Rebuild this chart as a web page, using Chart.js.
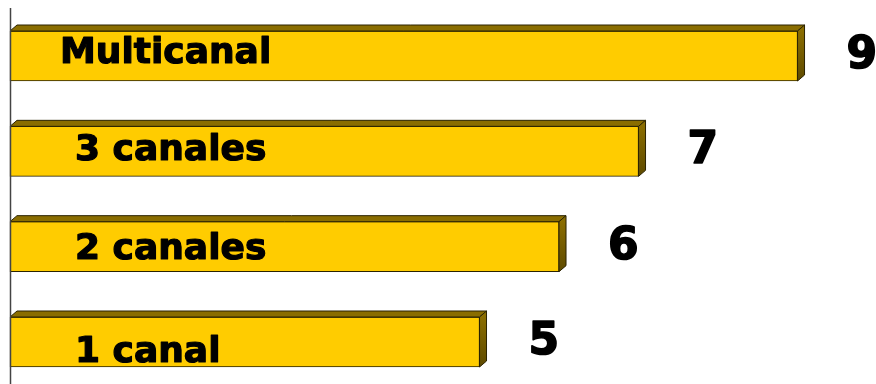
<!DOCTYPE html>
<html>
<head>
<meta charset="utf-8">
<script src="https://cdn.jsdelivr.net/npm/chart.js@4"></script>
<style>
  html, body { margin: 0; padding: 0; background: #fff; }
  #wrap { width: 876px; height: 384px; }
</style>
</head>
<body>
<div id="wrap"><canvas id="myChart" width="876" height="384"></canvas></div>
<script>
const categories = ["Multicanal", "3 canales", "2 canales", "1 canal"];
const values = [9, 7, 6, 5];

// label placement inside the bars (x start, baseline shift from bar centre)
const nameX = [60, 75, 75, 75];
const nameDy = [7, 9, 12, 20];

const xMin = -0.906;
const xMax = 9.987;

// heavy text: fill plus a thin stroke in the same colour
function boldText(c, text, x, y, weight) {
  c.lineWidth = weight;
  c.strokeStyle = "#000";
  c.lineJoin = "round";
  c.strokeText(text, x, y);
  c.fillText(text, x, y);
}

const bars3d = {
  id: "bars3d",
  afterDatasetsDraw(chart) {
    const c = chart.ctx;
    const meta = chart.getDatasetMeta(0);
    const dx = 7, dy = -6;
    c.save();
    meta.data.forEach((bar, i) => {
      const left = bar.base, right = bar.x;
      const top = bar.y - bar.height / 2, bottom = bar.y + bar.height / 2;

      // top face
      c.beginPath();
      c.moveTo(left, top);
      c.lineTo(left + dx, top + dy);
      c.lineTo(right + dx, top + dy);
      c.lineTo(right, top);
      c.closePath();
      c.fillStyle = "#8a6d00";
      c.fill();
      c.strokeStyle = "#2b2300";
      c.lineWidth = 1;
      c.stroke();

      // side face
      const g = c.createLinearGradient(0, top, 0, bottom);
      g.addColorStop(0, "#8a6d00");
      g.addColorStop(1, "#5e4a00");
      c.beginPath();
      c.moveTo(right, top);
      c.lineTo(right + dx, top + dy);
      c.lineTo(right + dx, bottom + dy);
      c.lineTo(right, bottom);
      c.closePath();
      c.fillStyle = g;
      c.fill();
      c.stroke();

      // category name on the bar
      c.fillStyle = "#000";
      c.font = "bold 36px 'DejaVu Sans'";
      c.textAlign = "left";
      c.textBaseline = "alphabetic";
      boldText(c, categories[i], nameX[i], bar.y + nameDy[i], 1.2);

      // value next to the bar
      c.font = "bold 44px 'DejaVu Sans'";
      boldText(c, String(values[i]), right + dx + 42, bar.y + 12, 1.6);
    });

    // vertical axis line
    c.beginPath();
    c.moveTo(10.5, 8);
    c.lineTo(10.5, chart.height);
    c.strokeStyle = "#444";
    c.lineWidth = 1.5;
    c.stroke();
    c.restore();
  }
};

const ctx = document.getElementById("myChart").getContext("2d");

const myChart = new Chart(ctx, {
  type: "bar",
  data: {
    labels: categories,
    datasets: [
      {
        data: values,
        base: xMin,
        backgroundColor: "#ffcc00",
        borderColor: "#2b2300",
        borderWidth: 1,
        borderSkipped: false,
        barThickness: 50,
        clip: false,
      },
    ],
  },
  options: {
    indexAxis: "y",
    responsive: false,
    animation: false,
    layout: { padding: { left: 10, right: 0, top: 56, bottom: 42 } },
    scales: {
      x: { display: false, min: xMin, max: xMax },
      y: { display: false, offset: false },
    },
    plugins: {
      legend: { display: false },
      tooltip: { enabled: false },
    },
  },
  plugins: [bars3d],
});
</script>
</body>
</html>
